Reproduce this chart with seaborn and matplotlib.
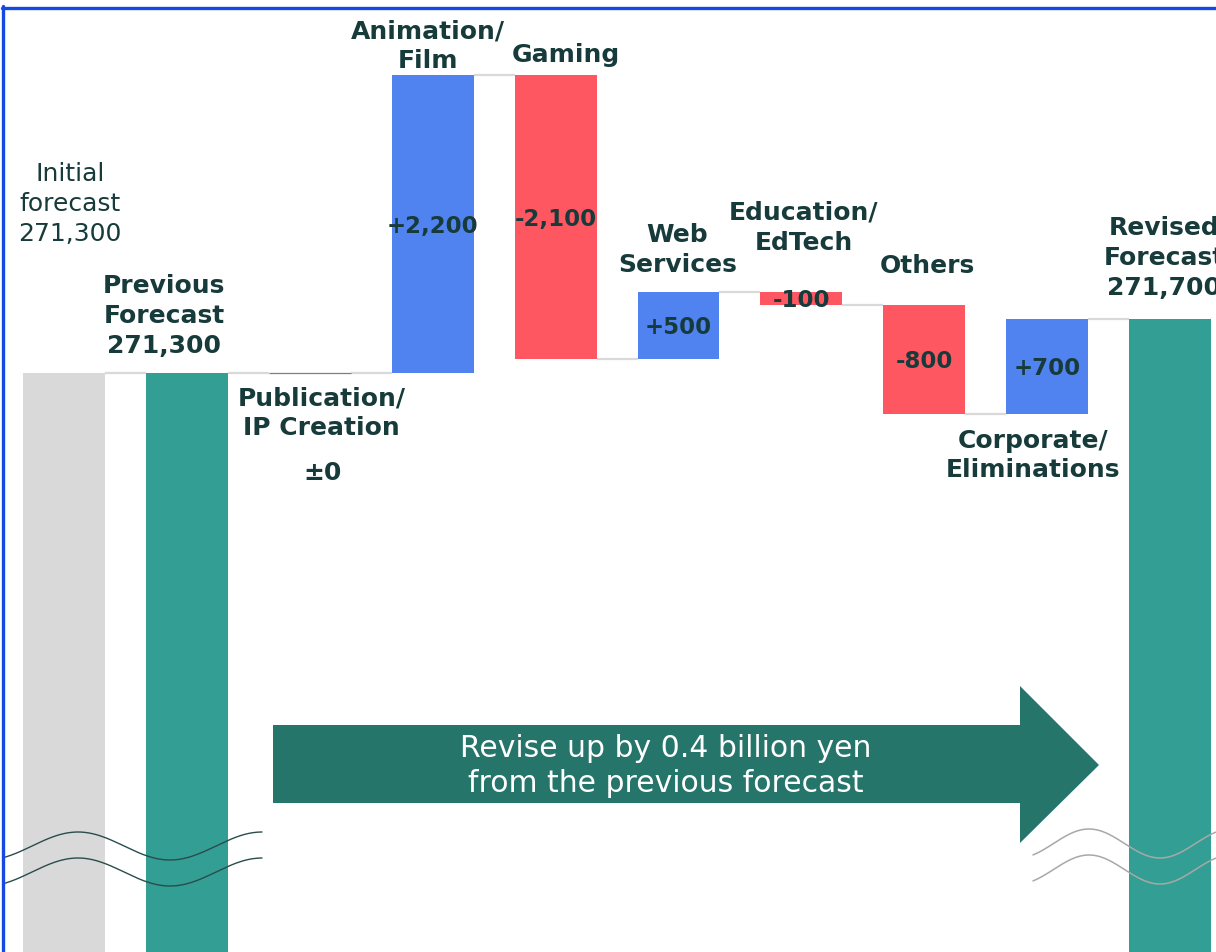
import numpy as np
import pandas as pd
import matplotlib.pyplot as plt
from matplotlib.patches import Polygon
from matplotlib.lines import Line2D
import seaborn as sns

# --- data -------------------------------------------------------------
categories = ["Initial", "Previous", "Publication", "Animation", "Gaming",
              "Web", "Education", "Others", "Corporate", "Revised"]
cat_labels = ["Initial\nforecast", "Previous\nForecast", "Publication/\nIP Creation",
              "Animation/\nFilm", "Gaming", "Web\nServices", "Education/\nEdTech",
              "Others", "Corporate/\nEliminations", "Revised\nForecast"]
initial_forecast = 271300
previous_forecast = 271300
segment_changes = [0, 2200, -2100, 500, -100, -800, 700]
revised_forecast = 271700
change_labels = ["±0", "+2,200", "-2,100", "+500", "-100", "-800", "+700"]
arrow_text = "Revise up by 0.4 billion yen\nfrom the previous forecast"

# --- style -------------------------------------------------------------
sns.set_theme(style="white")
plt.rcParams["font.family"] = ["DejaVu Sans"]

W, H = 1216, 952
TXT = "#173a3a"
GREY = "#d9d9d9"
TEAL = "#339e93"
BLUE = "#5083ef"
RED = "#ff5761"
ARROW = "#26756b"

# build waterfall table
lows, highs, colors = [], [], []
lows.append(0); highs.append(initial_forecast); colors.append(GREY)
lows.append(0); highs.append(previous_forecast); colors.append(TEAL)
level = previous_forecast
ends = [initial_forecast, previous_forecast]
for ch in segment_changes:
    new = level + ch
    lows.append(min(level, new)); highs.append(max(level, new))
    colors.append(BLUE if ch > 0 else RED)
    level = new
    ends.append(level)
lows.append(0); highs.append(revised_forecast); colors.append(TEAL)
ends.append(revised_forecast)

df = pd.DataFrame({"cat": categories, "low": lows, "high": highs})
df["height"] = df["high"] - df["low"]

fig = plt.figure(figsize=(W / 100, H / 100), dpi=100)
ax = fig.add_axes([0, 0, 1, 1])

bw = 0.667
sns.barplot(data=df, x="cat", y="height", order=categories, bottom=df["low"].to_numpy(),
            errorbar=None, width=bw, color=GREY, linewidth=0, ax=ax)
for patch, c in zip(ax.patches, colors):
    patch.set_facecolor(c)
    patch.set_edgecolor("none")

# axis range so the bars sit like the reference
step = 122.9
x_left = -64 / step
x_right = (W - 64) / step
upp = 7.383  # value units per pixel
y_top = initial_forecast + 373 * upp
y_bot = initial_forecast - (H - 373) * upp
ax.set_xlim(x_left, x_right)
ax.set_ylim(y_bot, y_top)
ax.set_axis_off()

# connectors
for i in range(len(categories) - 1):
    ax.hlines(ends[i], i + bw / 2, i + 1 - bw / 2, color=GREY, lw=1.6, zorder=1)
# zero change bar drawn as a thin line
for j, ch in enumerate(segment_changes):
    if ch == 0:
        i = j + 2
        ax.hlines(highs[i], i - bw / 2, i + bw / 2, color="#7f7f7f", lw=0.9, zorder=3)


def label(i, y, text, dx=0, dy=0, bold=True, size=18, color=TXT, va="center"):
    ax.annotate(text, (i, y), xytext=(dx, dy), textcoords="offset pixels",
                ha="center", va=va, fontsize=size, color=color,
                fontweight="bold" if bold else "normal", linespacing=1.3,
                annotation_clip=False)


# totals
label(0, highs[0], cat_labels[0] + f"\n{initial_forecast:,}", dx=6, dy=169, bold=False)
label(1, highs[1], cat_labels[1] + f"\n{previous_forecast:,}", dx=-23, dy=57)
label(9, highs[9], cat_labels[9] + f"\n{revised_forecast:,}", dx=-6, dy=61)

# segment names
name_offsets = {2: (12, -40), 3: (-5, 29), 4: (10, 20), 5: (-1, 42),
                6: (2, 64), 7: (3, 39), 8: (-14, -42)}
for i, (dx, dy) in name_offsets.items():
    y = highs[i] if dy > 0 else lows[i]
    label(i, y, cat_labels[i], dx=dx, dy=dy)

# change values
for j, (ch, txt) in enumerate(zip(segment_changes, change_labels)):
    i = j + 2
    if ch == 0:
        label(i, lows[i], txt, dx=13, dy=-100)
    else:
        label(i, (lows[i] + highs[i]) / 2, txt, dx=0, dy=-2, size=16.5)


def px(x, y):
    return x / W, 1 - y / H


# big arrow
arrow_pts = [px(273, 725), px(1020, 725), px(1020, 686), px(1099, 765),
             px(1020, 843), px(1020, 803), px(273, 803)]
ax.add_patch(Polygon(arrow_pts, closed=True, transform=ax.transAxes,
                     facecolor=ARROW, edgecolor="none", zorder=4))
ax.text(*px(666, 766), arrow_text, transform=ax.transAxes, ha="center", va="center",
        color="white", fontsize=21.5, linespacing=1.25, zorder=5)

# axis break waves
xs = np.linspace(3, 262, 200)
for off in (0, 26):
    ys = 846 - 14 * np.cos(2 * np.pi * (xs - 78) / 184) + off
    ax.plot(xs / W, 1 - ys / H, transform=ax.transAxes, color="#2b4c4c", lw=1.0, zorder=6)
xs = np.linspace(1033, 1216, 200)
for off in (0, 26):
    ys = 843.5 - 14.5 * np.cos(2 * np.pi * (xs - 1089) / 142) + off
    ax.plot(xs / W, 1 - ys / H, transform=ax.transAxes, color="#a8a8a8", lw=1.1, zorder=6)

# blue frame (top and left)
fig.add_artist(Line2D([2 / W, 1], [1 - 7.5 / H, 1 - 7.5 / H], color="#1449e3", lw=2.4))
fig.add_artist(Line2D([2.5 / W, 2.5 / W], [0, 1 - 6 / H], color="#1449e3", lw=2.4))

fig.savefig("out.png", dpi=100)
plt.close(fig)
